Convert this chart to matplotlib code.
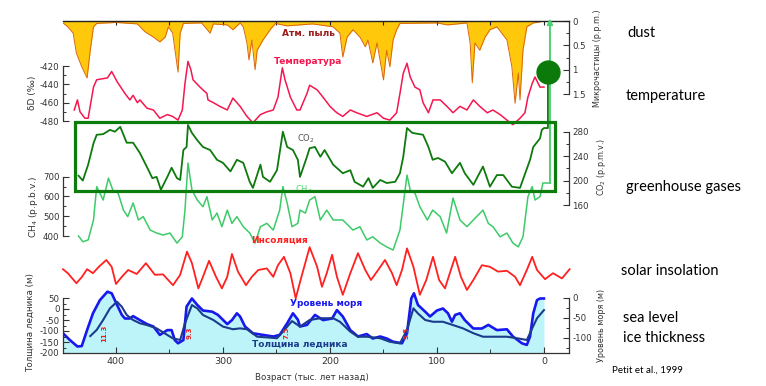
import matplotlib
matplotlib.use('Agg')
import matplotlib.pyplot as plt
from matplotlib.ticker import FixedLocator
from matplotlib.patches import Rectangle

plt.rcParams['axes.unicode_minus'] = False

# ---------------- data (age in kyr BP) ----------------
dust_age = [449.5, 445, 440, 437, 432, 427, 424, 421, 418, 400, 380, 373, 365, 359, 354, 351, 347, 342, 340, 337,
            320, 312, 309, 296, 290.7, 284, 281, 277.6, 275.7, 273, 270, 268, 262.6, 256, 251, 240, 228, 216, 197,
            190.7, 188, 184, 178.5, 172, 167, 164.5, 160, 156, 150, 147, 144, 141, 137.7, 134.6, 100, 90, 72, 69, 67,
            64.5, 60, 55, 50.5, 44, 34.6, 30, 27, 24, 22.4, 19.6, 16, 10, 3.7]
dust_ppm = [0.04, 0.12, 0.25, 0.66, 0.94, 1.17, 0.6, 0.12, 0.05, 0.03, 0.06, 0.22, 0.33, 0.43, 0.33, 0.12, 0.25, 1.05,
            0.25, 0.05, 0.04, 0.25, 0.06, 0.08, 0.18, 0.04, 0.12, 0.45, 0.8, 0.39, 1.0, 0.6, 0.39, 0.18, 0.05, 0.1,
            0.08, 0.06, 0.12, 0.25, 0.74, 0.33, 0.18, 0.33, 0.53, 0.39, 0.86, 0.45, 1.21, 0.6, 0.94, 0.39, 0.18, 0.05,
            0.04, 0.08, 0.04, 0.45, 1.27, 0.45, 0.6, 0.33, 0.18, 0.12, 0.39, 0.94, 1.69, 1.07, 1.62, 0.6, 0.12, 0.04,
            0.02]

temp_age = [439, 436, 433.6, 429, 426, 421, 418, 408, 404, 399, 391.6, 387, 384, 380, 377.6, 371, 365, 359, 352, 347,
            342, 338, 335.5, 332.7, 330, 328, 321.5, 315, 314, 309, 303, 296, 290.7, 284, 277.6, 272, 265, 259, 253,
            248.6, 244.5, 242, 237, 231, 228, 221.5, 219, 212, 206.5, 200, 193.6, 188, 181, 175, 165.6, 156, 150, 144,
            137.7, 134.6, 131.5, 128, 125, 120.6, 116, 113, 108, 103.7, 97, 90.7, 85, 78.5, 72, 66, 60, 53, 47.7, 41,
            34.6, 29, 22.4, 17.8, 15, 11, 8.4, 3.7, 0]
temp_dD = [-468, -457, -470, -477, -477, -443, -435, -433, -426, -437, -450, -457, -452, -460, -457, -466, -468, -477,
           -473, -475, -479, -468, -439, -415, -424, -435, -443, -450, -457, -460, -464, -468, -455, -464, -475, -482,
           -473, -470, -468, -454, -422, -435, -454, -468, -468, -450, -441, -446, -454, -464, -471, -475, -468, -471,
           -475, -471, -477, -479, -471, -450, -428, -417, -432, -443, -446, -460, -471, -457, -457, -464, -471, -464,
           -468, -457, -464, -471, -468, -473, -479, -484, -477, -471, -454, -439, -432, -443, -443]

co2_age = [435, 431, 426, 421, 418, 412, 405.6, 401, 396, 390, 384, 377.6, 371, 366, 362, 358, 352, 348, 343, 340,
           337, 334, 332.7, 329, 324, 318.7, 312, 305.6, 300, 293, 287, 281, 275, 272, 265, 262.6, 256, 249.5, 244,
           240, 234.6, 230, 228, 221.5, 219, 214, 209, 205, 197, 188, 181, 177, 169, 164, 160, 153, 147, 139, 134.6,
           131.5, 128, 123, 113, 108, 104, 99, 92.5, 86, 78.5, 74, 66, 57, 50.5, 44, 38, 30, 22.4, 13, 10, 3.7, 2, 0]
co2_ppm = [208, 200, 226, 261, 275, 276, 283, 280, 288, 262, 262, 245, 222, 204, 206, 185, 206, 221, 204, 201, 250,
           255, 291, 278, 266, 255, 250, 234, 229, 215, 234, 229, 198, 188, 226, 206, 198, 217, 280, 255, 250, 234,
           206, 239, 253, 255, 239, 250, 226, 212, 217, 198, 190, 204, 188, 201, 196, 198, 212, 239, 286, 278, 275,
           255, 234, 237, 231, 212, 229, 212, 193, 223, 190, 209, 209, 190, 188, 234, 255, 269, 283, 286]
co2_modern_age = -3.7
co2_modern_ppm = 378

ch4_age = [435, 431, 426, 421, 418, 415, 412, 407, 403, 398, 393, 389, 384, 379, 374.5, 368, 362, 356, 349.5, 343,
           338, 335.5, 332.7, 329, 324, 318.7, 315, 310, 305.6, 301, 296, 291.6, 287, 281, 275, 270, 265, 259, 253,
           247, 244, 240, 235.5, 230, 228, 223, 219, 214, 209, 203, 197, 188, 178.5, 172, 165.6, 160, 153, 147, 141,
           134.6, 128, 125, 120.6, 116, 109, 104, 97, 91, 85, 78.5, 72, 66, 57, 52, 47.7, 41, 34.6, 29, 24, 19.6, 15,
           11, 8.4, 3.7, 1]
ch4_ppb = [400, 371, 380, 481, 650, 617, 582, 693, 633, 617, 531, 498, 567, 481, 498, 430, 415, 405, 415, 364, 396,
           531, 769, 633, 582, 548, 599, 481, 516, 447, 531, 464, 498, 447, 415, 364, 447, 464, 430, 531, 650, 567,
           447, 464, 531, 516, 582, 599, 481, 531, 481, 481, 430, 447, 380, 396, 364, 345, 329, 430, 708, 633, 617,
           548, 481, 531, 498, 415, 592, 481, 447, 481, 531, 464, 447, 396, 415, 364, 345, 396, 599, 650, 582, 599, 668]
ch4_modern_age = -5.6
ch4_arrow_top = 1500

ins_age = [449.5, 445, 437, 432, 427, 421.5, 416, 409, 404, 400, 394.5, 388.6, 380.6, 372, 363.6, 356, 346.7, 340,
           333.6, 329, 323, 318.7, 313, 306.5, 301, 296, 291.6, 286, 278.5, 273, 267, 259, 253, 248.6, 243, 237, 232,
           228, 219, 212, 207.5, 203, 198, 193.5, 188, 181, 173.8, 167, 161.7, 155, 148.6, 142, 137.7, 132.7, 128,
           122, 116, 110, 103.7, 98, 92.5, 88, 83, 77.6, 72, 66, 58, 50.5, 43, 34.6, 27, 22.4, 16, 11, 6.5, -1, -8.4,
           -16.8, -24]
ins_wm2 = [502, 492, 467, 482, 502, 492, 508, 525, 508, 465, 483, 500, 490, 517, 488, 489, 462, 488, 546, 517, 454,
           483, 523, 483, 454, 483, 540, 496, 462, 483, 500, 504, 483, 512, 533, 492, 429, 470, 557, 508, 458, 492,
           538, 483, 438, 492, 542, 500, 475, 500, 525, 492, 462, 500, 554, 508, 438, 475, 533, 475, 454, 492, 533,
           483, 450, 475, 512, 508, 496, 498, 483, 462, 500, 533, 500, 477, 492, 479, 502]

sl_age = [449.5, 443, 436, 432, 427, 421.5, 415, 408, 404, 399, 394.5, 391.6, 387, 384, 377.6, 371, 365, 359, 352,
          348, 345, 342, 337, 334, 329, 324, 318.7, 310, 304.7, 296, 291.6, 287, 284, 279.4, 272, 262.6, 253, 247,
          240, 234.6, 230, 228, 221.5, 214, 206.5, 198, 193.5, 188, 181, 173.8, 165.6, 160, 153, 147, 141, 132.7, 128,
          124, 121.5, 117.8, 111, 106.5, 100, 94.4, 89.7, 86, 83, 78.5, 74, 66, 58, 52, 44, 34.6, 29, 20.6, 16, 13,
          10, 6.5, 3.7, 0]
sl_m = [-89, -106, -122, -121, -81, -39, -6, 15, 11, -18, -43, -52, -52, -46, -56, -66, -72, -93, -81, -81, -106,
        -114, -106, -22, -2, -18, -32, -35, -43, -66, -56, -39, -47, -72, -89, -93, -97, -93, -64, -39, -55, -72,
        -68, -43, -56, -52, -31, -47, -81, -97, -91, -102, -97, -102, -110, -114, -89, -2, 11, -18, -35, -47, -32,
        -27, -39, -60, -43, -39, -56, -77, -77, -68, -81, -79, -97, -114, -118, -97, -39, -6, -2, -2]

ice_age = [424, 418, 412, 405.6, 399, 394.5, 390, 384, 377.6, 371, 362, 352, 347, 340, 335.5, 329, 324, 318.7, 309,
           300, 290.7, 284, 277.6, 268, 259, 249.5, 244, 235.5, 230, 228, 219, 209, 197, 190.7, 181, 173.8, 165.6,
           153, 144, 134.6, 128, 122, 117.8, 111, 103.7, 94.4, 85, 75.7, 66, 57, 47.7, 34.6, 25, 16, 11, 6.5, 0]
ice_m = [-123, -95, -50, 3, 33, 10, -27, -50, -65, -73, -88, -118, -133, -141, -65, 18, 3, -27, -50, -80, -92, -88,
         -92, -126, -129, -133, -103, -55, -73, -80, -50, -42, -42, -58, -103, -126, -126, -133, -149, -156, -95, 3,
         -20, -50, -58, -58, -73, -88, -110, -126, -126, -126, -133, -141, -88, -42, -5]

interglacial_age = [411, 331, 241, 128]
interglacial_lbl = ['11.3', '9.3', '7.5', '5.5']

x_major = [400, 300, 200, 100, 0]

# ---------------- layout ----------------
W, H = 766, 386
fig = plt.figure(figsize=(W / 100, H / 100), dpi=100)
BOX_L, BOX_R, BOX_T, BOX_B = 63, 569, 21, 353
RECT = [BOX_L / W, 1 - BOX_B / H, (BOX_R - BOX_L) / W, (BOX_B - BOX_T) / H]
XLIM = (449.5, -23.4)
TICKC = '#333333'
FS = 6.2


def fx(x):
    return x / W


def fy(y):
    return 1 - y / H


def make_ax(name, y_a, v_a, y_b, v_b):
    ax = fig.add_axes(RECT, label=name)
    ax.patch.set_visible(False)
    slope = (v_b - v_a) / (y_b - y_a)
    top = v_a + (BOX_T - y_a) * slope
    bot = v_a + (BOX_B - y_a) * slope
    ax.set_ylim(bot, top)
    ax.set_xlim(*XLIM)
    for s in ax.spines.values():
        s.set_visible(False)
    ax.set_xticks([])
    ax.set_yticks([])
    return ax


def yaxis_style(ax, side, lo, hi, major, minor, labels=None):
    sp = ax.spines[side]
    sp.set_visible(True)
    sp.set_bounds(lo, hi)
    sp.set_color(TICKC)
    sp.set_linewidth(0.9)
    ax.yaxis.set_ticks_position(side)
    ax.set_yticks(major)
    if labels is not None:
        ax.set_yticklabels(labels)
    ax.yaxis.set_minor_locator(FixedLocator(minor))
    ax.tick_params(axis='y', which='major', direction='in', length=4, width=0.8, color=TICKC,
                   labelsize=FS, labelcolor=TICKC, pad=2.5)
    ax.tick_params(axis='y', which='minor', direction='in', length=2.5, width=0.7, color=TICKC)


# dust (inverted)
ax_d = make_ax('dust', 21, 0.0, 94, 1.5)
ax_d.fill_between(dust_age, 0, dust_ppm, color='#FFC80A', lw=0, zorder=1)
ax_d.plot(dust_age, dust_ppm, color='#D9660F', lw=0.7, zorder=2)
yaxis_style(ax_d, 'right', 0, 1.5, [0, 0.5, 1, 1.5], [0.25, 0.75, 1.25], ['0', '0.5', '1', '1.5'])
ax_d.spines['top'].set_visible(True)
ax_d.spines['top'].set_color('#222222')
ax_d.spines['top'].set_linewidth(1.0)
ax_d.xaxis.set_ticks_position('top')
ax_d.set_xticks(list(range(0, 451, 50)))
ax_d.tick_params(axis='x', direction='in', length=3, width=0.8, color='#222222', labeltop=False)
ax_d.set_xlim(*XLIM)

# temperature
ax_t = make_ax('temp', 66, -420, 121, -480)
ax_t.plot(temp_age, temp_dD, color='#F5174F', lw=1.1)
yaxis_style(ax_t, 'left', -480, -420, [-420, -440, -460, -480], [-430, -450, -470])

# CH4
ax_m = make_ax('ch4', 176.7, 700, 236, 400)
ax_m.plot(ch4_age + [ch4_modern_age], ch4_ppb + [ch4_ppb[-1]], color='#3CCB68', lw=1.1)
ax_m.annotate('', xy=(ch4_modern_age, ch4_arrow_top), xytext=(ch4_modern_age, ch4_ppb[-1]),
              arrowprops=dict(arrowstyle='-|>', color='#4CD173', lw=1.4, mutation_scale=8,
                              shrinkA=0, shrinkB=0), annotation_clip=False)
yaxis_style(ax_m, 'left', 400, 700, [400, 500, 600, 700], [450, 550, 650])

# CO2
ax_c = make_ax('co2', 131.7, 280, 205, 160)
ax_c.plot(co2_age + [co2_modern_age, co2_modern_age], co2_ppm + [co2_ppm[-1], co2_modern_ppm],
          color='#0E7A0E', lw=1.3)
ax_c.plot([co2_modern_age], [co2_modern_ppm], 'o', color='#0B7A0B', ms=16.5, clip_on=False)
yaxis_style(ax_c, 'right', 160, 280, [160, 200, 240, 280], [180, 220, 260])

# insolation
ax_i = make_ax('ins', 270, 500, 290, 450)
ax_i.plot(ins_age, ins_wm2, color='#FF2020', lw=1.3, solid_joinstyle='round', clip_on=False)

# sea level (right) with fill
ax_s = make_ax('sea', 297.7, 0, 337.7, -100)
s_bot = ax_s.get_ylim()[0]
ax_s.fill_between(sl_age, s_bot, sl_m, color='#BDF4FA', lw=0)
ax_s.plot(sl_age, sl_m, color='#1818EE', lw=1.9)
yaxis_style(ax_s, 'right', s_bot, 0, [0, -50, -100], [-25, -75, -125])
ax_s.spines['bottom'].set_visible(True)
ax_s.spines['bottom'].set_color(TICKC)
ax_s.spines['bottom'].set_linewidth(0.9)
ax_s.xaxis.set_ticks_position('bottom')
ax_s.set_xticks(x_major)
ax_s.xaxis.set_minor_locator(FixedLocator([450, 350, 250, 150, 50]))
ax_s.tick_params(axis='x', which='major', direction='in', length=4, width=0.8, color=TICKC,
                 labelsize=FS + 0.6, labelcolor=TICKC, pad=3)
ax_s.tick_params(axis='x', which='minor', direction='in', length=3, width=0.7, color=TICKC)
ax_s.set_xlim(*XLIM)

# ice thickness (left)
ax_g = make_ax('ice', 298, 50, 353, -200)
ax_g.plot(ice_age, ice_m, color='#1B3C8C', lw=1.5)
yaxis_style(ax_g, 'left', -200, 50, [50, 0, -50, -100, -150, -200], [25, -25, -75, -125, -175])
for a, lbl in zip(interglacial_age, interglacial_lbl):
    ax_g.text(a, -110, lbl, rotation=90, color='#E82020', fontsize=5, fontweight='bold',
              ha='center', va='center')

# greenhouse box
fig.patches.append(Rectangle((fx(75), fy(190.7)), fx(555) - fx(75), fy(122) - fy(190.7),
                             transform=fig.transFigure, fill=False, ec='#0C7C0C', lw=2.3, zorder=5))

# series labels
fig.text(fx(308), fy(34), 'Атм. пыль', color='#9E1B1B', fontsize=6.5, fontweight='bold', ha='center', va='center')
fig.text(fx(308), fy(62), 'Температура', color='#F5174F', fontsize=6.5, fontweight='bold', ha='center', va='center')
fig.text(fx(306), fy(139), 'CO$_2$', color='#555555', fontsize=6, ha='center', va='center')
fig.text(fx(304), fy(190), 'CH$_4$', color='#55D77A', fontsize=6, ha='center', va='center', zorder=2)
fig.text(fx(280), fy(240), 'Инсоляция', color='#FF2020', fontsize=6.5, fontweight='bold', ha='center', va='center')
fig.text(fx(326), fy(303), 'Уровень моря', color='#1818EE', fontsize=6.5, fontweight='bold', ha='center', va='center')
fig.text(fx(300), fy(344), 'Толщина ледника', color='#1B3C8C', fontsize=6.5, fontweight='bold', ha='center',
         va='center')

# axis titles
fig.text(fx(597), fy(58), 'Микрочастицы (p.p.m.)', rotation=90, fontsize=5.8, color=TICKC, ha='center', va='center')
fig.text(fx(32), fy(93), 'δD (‰)', rotation=90, fontsize=6.5, color=TICKC, ha='center', va='center')
fig.text(fx(601), fy(167), 'CO$_2$ (p.p.m.v.)', rotation=90, fontsize=5.8, color=TICKC, ha='center', va='center')
fig.text(fx(33), fy(207), 'CH$_4$ (p.p.b.v.)', rotation=90, fontsize=6.5, color=TICKC, ha='center', va='center')
fig.text(fx(30), fy(322), 'Толщина ледника (м)', rotation=90, fontsize=6.3, color=TICKC, ha='center', va='center')
fig.text(fx(602), fy(325), 'Уровень моря (м)', rotation=90, fontsize=5.8, color=TICKC, ha='center', va='center')
fig.text(fx(312), fy(377), 'Возраст (тыс. лет назад)', fontsize=6.2, color=TICKC, ha='center', va='center')

# english annotations
EN = dict(family='Lato', fontsize=10.5, color='black', ha='left', va='center')
fig.text(fx(627), fy(33), 'dust', **EN)
fig.text(fx(626), fy(96), 'temperature', **EN)
fig.text(fx(626), fy(187), 'greenhouse gases', **EN)
fig.text(fx(621), fy(271), 'solar insolation', **EN)
fig.text(fx(623), fy(318), 'sea level', **EN)
fig.text(fx(623), fy(338), 'ice thickness', **EN)
fig.text(fx(647), fy(370), 'Petit et al., 1999', family='Lato', fontsize=7, color='black', ha='center', va='center')

fig.savefig('out.png', dpi=100)
